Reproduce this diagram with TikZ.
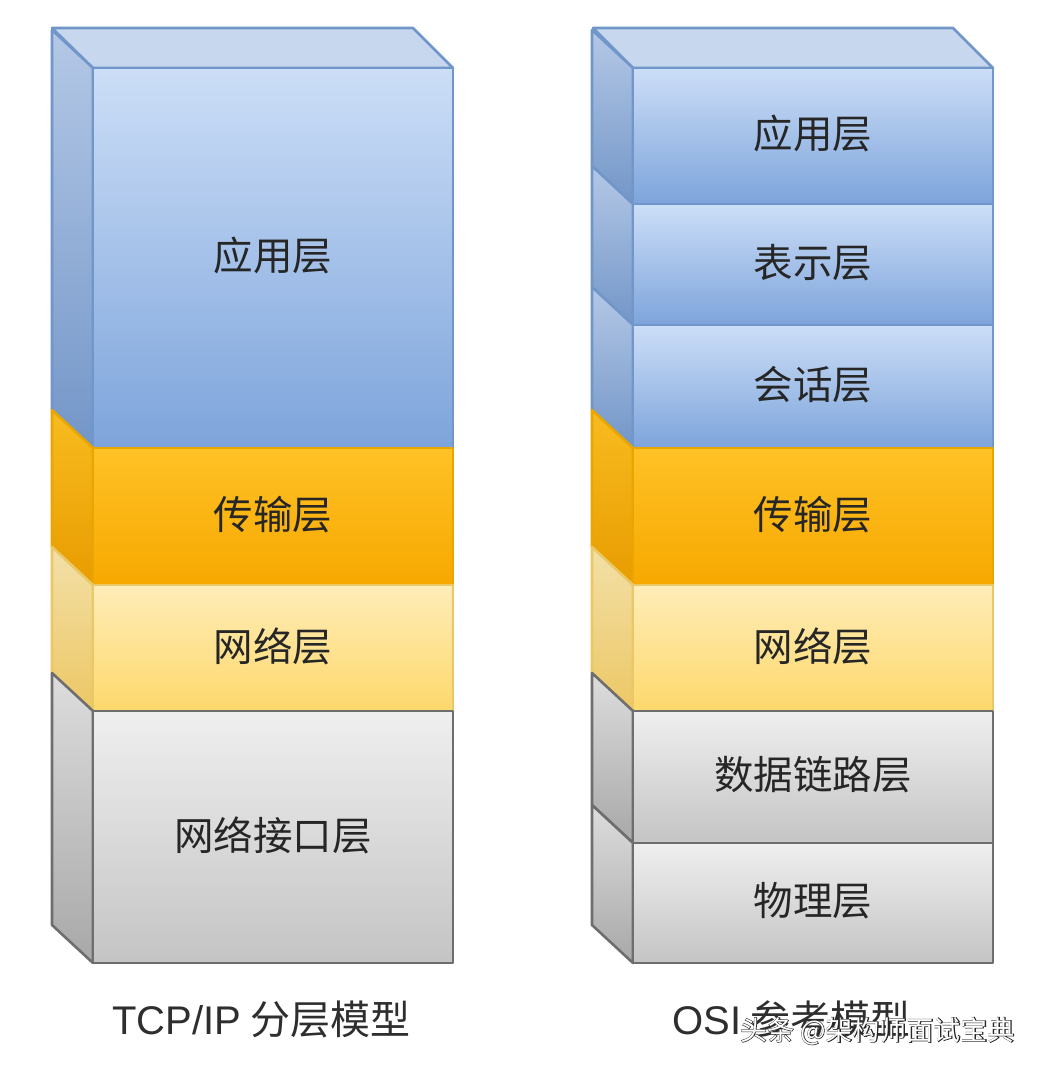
\documentclass[tikz,border=0pt]{standalone}
\usepackage{fontspec}
\newfontfamily\cjk{Noto Sans CJK SC}
\newfontfamily\lat{Liberation Sans}
\definecolor{txt}{HTML}{262626}
\tikzset{
  face/.style={rectangle, inner sep=0pt, outer sep=0pt, minimum width=360pt, line width=2.6pt, line join=round, text=txt, font=\cjk\fontsize{39.5}{42}\selectfont},
  blueface/.style={face, top color=cbT, bottom color=cbB, draw=cbD},
  blueside/.style={top color=csbT, bottom color=csbB, draw=cbD, line width=2.6pt, line join=round},
  orangeface/.style={face, top color=coT, bottom color=coB, draw=coD},
  orangeside/.style={top color=csoT, bottom color=csoB, draw=coD, line width=2.6pt, line join=round},
  yellowface/.style={face, top color=cyT, bottom color=cyB, draw=cyD},
  yellowside/.style={top color=csyT, bottom color=csyB, draw=cyD, line width=2.6pt, line join=round},
  grayface/.style={face, top color=cgT, bottom color=cgB, draw=cgD},
  grayside/.style={top color=csgT, bottom color=csgB, draw=cgD, line width=2.6pt, line join=round},
  topface/.style={fill=ctop, draw=cbD, line width=2.6pt, line join=round},
  caption/.style={text=black!82, font=\cjk\fontsize{40}{42}\selectfont, inner sep=0pt, anchor=west},
  wmark/.style={anchor=west, inner sep=0pt},
}
\definecolor{cbT}{HTML}{CCDEF7}
\definecolor{cbB}{HTML}{7DA4DB}
\definecolor{cbD}{HTML}{7196C9}
\definecolor{csbT}{HTML}{B4C8E6}
\definecolor{csbB}{HTML}{7396C8}
\definecolor{coT}{HTML}{FFC226}
\definecolor{coB}{HTML}{F7A800}
\definecolor{coD}{HTML}{EAA600}
\definecolor{csoT}{HTML}{F8BC20}
\definecolor{csoB}{HTML}{E89C00}
\definecolor{cyT}{HTML}{FFEDB8}
\definecolor{cyB}{HTML}{FDD86C}
\definecolor{cyD}{HTML}{EAC868}
\definecolor{csyT}{HTML}{F3E0A8}
\definecolor{csyB}{HTML}{ECC764}
\definecolor{cgT}{HTML}{EFEFEF}
\definecolor{cgB}{HTML}{C4C4C4}
\definecolor{cgD}{HTML}{6E6E6E}
\definecolor{csgT}{HTML}{DDDDDD}
\definecolor{csgB}{HTML}{A8A8A8}
\definecolor{ctop}{HTML}{C7D7EE}
% #1 name, #2 front-left x, #3 top y, #4 bottom y, #5 kind, #6 text
\newcommand\mylayer[6]{%
  \path[#5side] ({#2-41},{#3-38}) -- (#2,#3) -- (#2,#4) -- ({#2-41},{#4-38}) -- cycle;
  \node[#5face, minimum height={(#4-#3)*1pt}] (#1) at ({#2+180},{(#3+#4)/2}) {};
  \node[face, draw=none, fill=none, minimum height=0pt] (#1t) at ({#2+180},{(#3+#4)/2-2}) {#6};
}
\begin{document}
\begin{tikzpicture}[x=1pt,y=-1pt]
\useasboundingbox[fill=white] (0,0) rectangle (1040,1068);
% ---------- TCP/IP column ----------
\path[topface] (52,28) -- (413,28) -- (453,68) -- (93,68) -- cycle;
\mylayer{tapp}{93}{68}{448}{blue}{应用层}
\mylayer{ttrans}{93}{448}{585}{orange}{传输层}
\mylayer{tnet}{93}{585}{711}{yellow}{网络层}
\mylayer{tif}{93}{711}{963}{gray}{网络接口层}
% ---------- OSI column ----------
\path[topface] (593,28) -- (953,28) -- (993,68) -- (633,68) -- cycle;
\mylayer{oapp}{633}{68}{204}{blue}{应用层}
\mylayer{opres}{633}{204}{325}{blue}{表示层}
\mylayer{osess}{633}{325}{448}{blue}{会话层}
\mylayer{otrans}{633}{448}{585}{orange}{传输层}
\mylayer{onet}{633}{585}{711}{yellow}{网络层}
\mylayer{olink}{633}{711}{843}{gray}{数据链路层}
\mylayer{ophys}{633}{843}{963}{gray}{物理层}
% ---------- captions ----------
\node[caption] (cap1) at (112,1019) {{\lat TCP/IP} 分层模型};
\node[caption] (cap2) at (672,1019) {{\lat OSI} 参考模型};
% watermark (white letters with dark outline)
\node[wmark, text=black!85, font=\cjk\fontsize{27}{30}\selectfont\addfontfeature{FakeBold=3.5}] (wmo) at (740,1031) {头条 @架构师面试宝典};
\node[wmark, text=white, font=\cjk\fontsize{27}{30}\selectfont] (wm) at (740,1031) {头条 @架构师面试宝典};
\end{tikzpicture}
\end{document}
